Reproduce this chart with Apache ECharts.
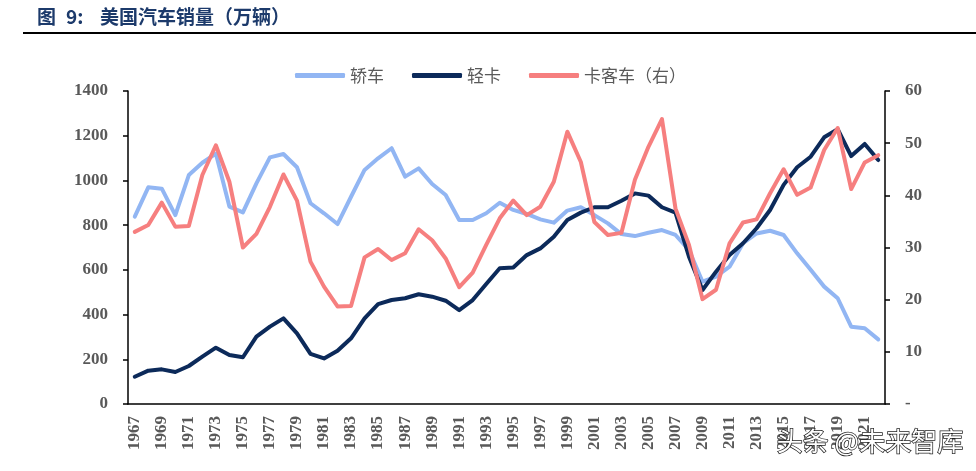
<!DOCTYPE html>
<html>
<head>
<meta charset="utf-8">
<script src="https://cdn.jsdelivr.net/npm/echarts@6/dist/echarts.min.js"></script>
<style>html,body{margin:0;padding:0;background:#fff;}#c{width:976px;height:471px;}</style>
</head>
<body>
<div id="c"></div>
<script>
var years = [];
for (var y = 1967; y <= 2022; y++) years.push(String(y));

var sedan = [838,969,963,845,1024,1079,1120,883,857,987,1103,1118,1059,898,853,805,927,1047,1099,1144,1017,1054,984,935,823,823,853,900,868,850,826,811,865,880,845,808,760,751,766,778,756,689,547,570,614,719,763,775,756,674,600,525,473,346,339,289];
var lightTruck = [122,149,155,143,170,212,252,219,209,301,346,383,316,224,204,238,294,383,447,465,473,491,480,462,420,465,537,607,611,666,696,748,823,856,880,880,909,942,932,880,856,659,510,592,666,719,786,868,980,1059,1106,1193,1229,1109,1163,1091];
var heavyTruck = [33.0,34.3,38.6,34.0,34.1,43.9,49.6,42.6,30.0,32.6,37.8,44.0,39.0,27.3,22.5,18.7,18.8,28.1,29.7,27.6,28.9,33.5,31.4,27.9,22.4,25.2,30.5,35.6,39.0,36.2,37.8,42.6,52.2,46.4,34.9,32.4,32.8,43.0,49.3,54.6,37.5,30.5,20.1,21.9,30.8,34.8,35.4,40.4,45.0,40.1,41.5,48.7,52.9,41.2,46.3,47.7];

var seriesNames = ['轿车', '轻卡', '卡客车（右）'];
var colors = ['#92b6f3', '#0c2a5a', '#f67f7f'];

var chart = echarts.init(document.getElementById('c'));
var axisLabelFont = {fontFamily: '"Liberation Serif", "Times New Roman", serif', fontWeight: 'bold', fontSize: 17, color: '#595959'};
var titleFont = 'bold 19px "Noto Sans CJK SC", sans-serif';
chart.setOption({
  animation: false,
  backgroundColor: '#fff',
  graphic: [
    {type: 'text', left: 37, top: 7, style: {text: '图', font: titleFont, fill: '#1c3a6b'}},
    {type: 'text', left: 66, top: 7, style: {text: '9:', font: titleFont, fill: '#1c3a6b'}},
    {type: 'text', left: 100, top: 7, style: {text: '美国汽车销量（万辆）', font: titleFont, fill: '#1c3a6b'}},
    {type: 'rect', shape: {x: 23, y: 32, width: 953, height: 2}, style: {fill: '#000'}},
    {type: 'text', left: 776, top: 427, z: 100, style: {text: '头条 @未来智库', font: '26px "Noto Sans CJK SC", sans-serif', fill: '#fff', stroke: '#222', lineWidth: 1.5}}
  ],
  legend: {
    top: 62, left: 290,
    itemWidth: 50, itemHeight: 5, itemGap: 28,
    icon: 'roundRect',
    textStyle: {fontFamily: '"Noto Sans CJK SC", sans-serif', fontSize: 17, color: '#595959'},
    data: seriesNames
  },
  grid: {left: 128, right: 91, top: 91, bottom: 67, containLabel: false},
  xAxis: {
    type: 'category', data: years, boundaryGap: true,
    axisLine: {lineStyle: {color: '#000', width: 1.5}},
    axisTick: {interval: 1, length: 5, lineStyle: {color: '#000', width: 1.5}},
    axisLabel: Object.assign({interval: 1, rotate: 90, margin: 12}, axisLabelFont),
    splitLine: {show: false}
  },
  yAxis: [
    {type: 'value', min: 0, max: 1400, interval: 200,
     axisLine: {show: true, lineStyle: {color: '#000', width: 1.5}},
     axisTick: {show: true, length: 5, lineStyle: {color: '#000', width: 1.5}},
     axisLabel: Object.assign({margin: 20, formatter: function (v) { return String(v); }}, axisLabelFont),
     splitLine: {show: false}},
    {type: 'value', min: 0, max: 60, interval: 10, position: 'right',
     axisLine: {show: true, lineStyle: {color: '#000', width: 1.5}},
     axisTick: {show: true, length: 5, lineStyle: {color: '#000', width: 1.5}},
     axisLabel: Object.assign({margin: 20, formatter: function (v) { return v === 0 ? '-' : String(v); }}, axisLabelFont),
     splitLine: {show: false}}
  ],
  series: [
    {name: seriesNames[0], type: 'line', data: sedan, yAxisIndex: 0, symbol: 'none', lineStyle: {width: 4, color: colors[0], cap: 'round', join: 'round'}, itemStyle: {color: colors[0]}},
    {name: seriesNames[1], type: 'line', data: lightTruck, yAxisIndex: 0, symbol: 'none', lineStyle: {width: 4, color: colors[1], cap: 'round', join: 'round'}, itemStyle: {color: colors[1]}},
    {name: seriesNames[2], type: 'line', data: heavyTruck, yAxisIndex: 1, symbol: 'none', lineStyle: {width: 4, color: colors[2], cap: 'round', join: 'round'}, itemStyle: {color: colors[2]}}
  ]
});
</script>
</body>
</html>
